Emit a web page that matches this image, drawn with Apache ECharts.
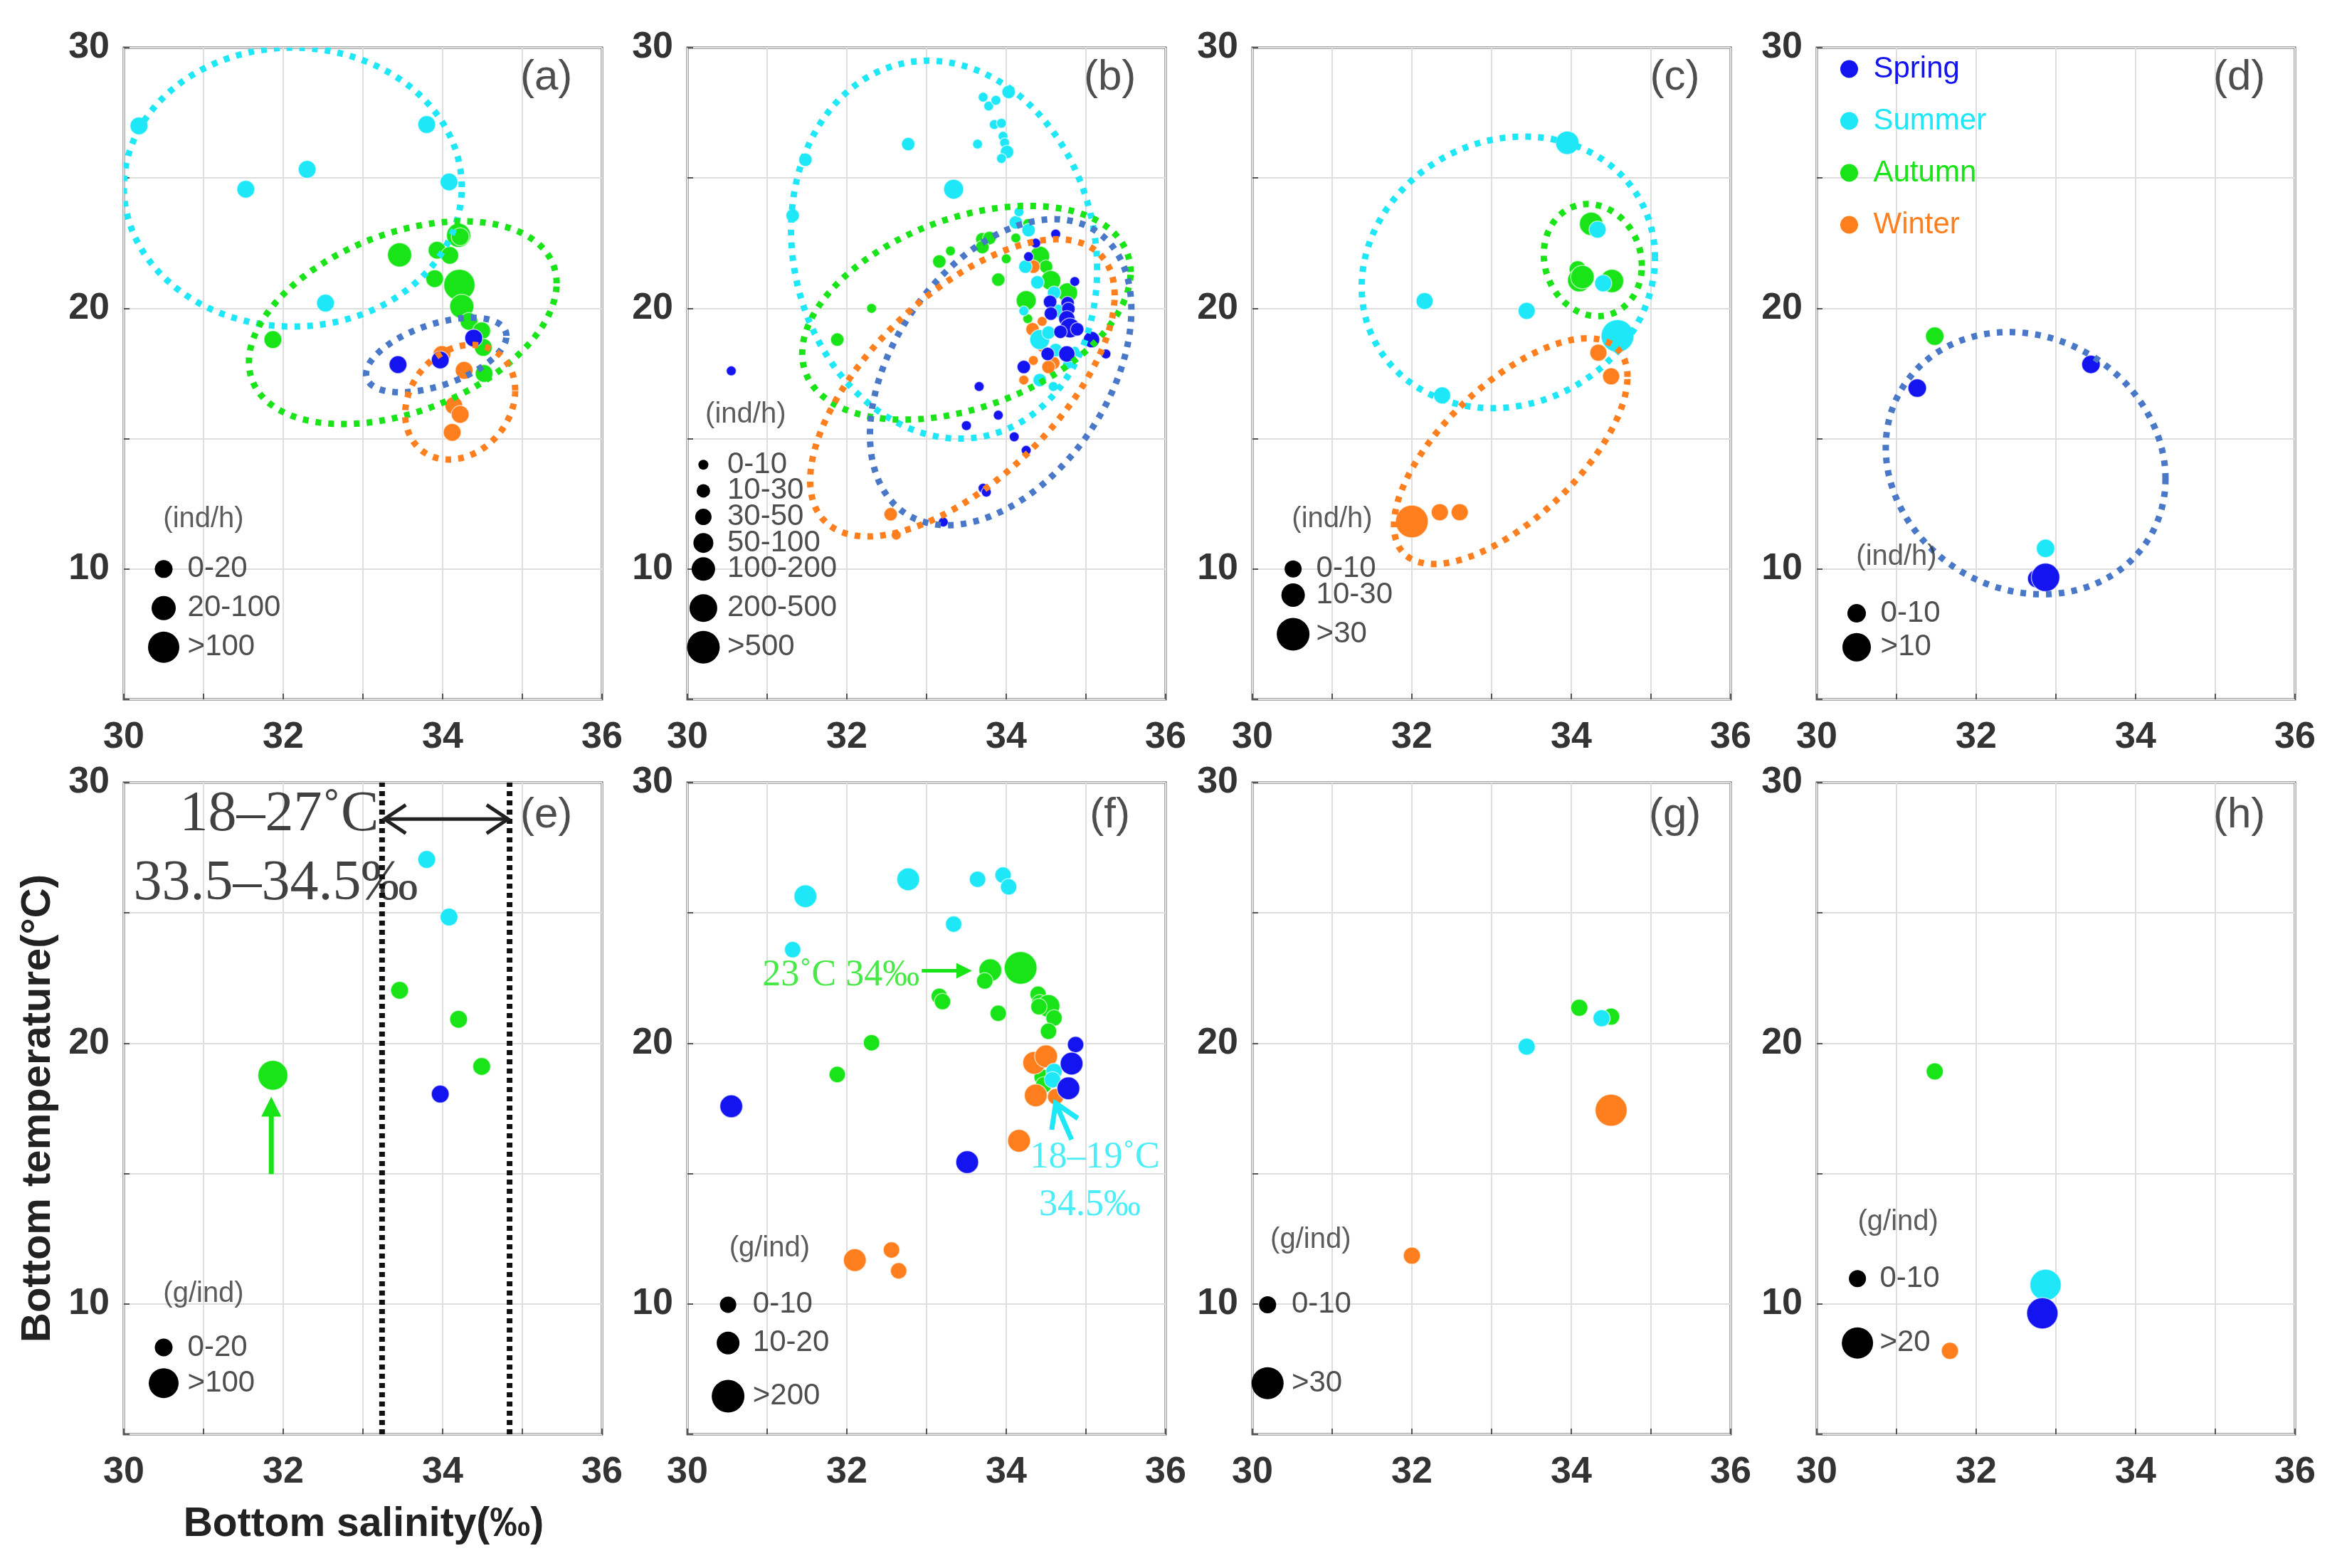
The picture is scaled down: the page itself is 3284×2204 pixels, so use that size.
<!DOCTYPE html>
<html>
<head>
<meta charset="utf-8">
<title>Bottom temperature vs salinity</title>
<script src="https://cdn.jsdelivr.net/npm/echarts@6/dist/echarts.min.js"></script>
<style>
html, body { margin: 0; padding: 0; background: #fff; }
#chart { width: 3284px; height: 2204px; }
</style>
</head>
<body>
<div id="chart"></div>
<script>
// seasons
var seasons = ['Spring', 'Summer', 'Autumn', 'Winter'];
var seasonColors = ['#1414f0', '#1ee8f8', '#18e418', '#ff7f1e'];
var ellipseColors = ['#4a78c8', '#1ee8f8', '#18e418', '#ff7f1e'];

// points: [salinity, temperature, size class]
/* (a) */
var springA = [[33.44, 17.84, 0], [33.97, 18.02, 0], [34.39, 18.86, 0]];
var summerA = [[30.19, 27.0, 0], [33.8, 27.05, 0], [32.3, 25.33, 0], [31.53, 24.57, 0], [34.08, 24.85, 0], [32.53, 20.2, 0]];
var autumnA = [[33.46, 22.05, 1], [33.93, 22.23, 0], [34.09, 22.03, 0], [34.2, 22.8, 1], [34.22, 22.75, 0], [33.9, 21.14, 0],
  [34.21, 20.9, 2], [34.24, 20.07, 1], [34.33, 19.5, 0], [34.49, 19.14, 0], [34.51, 18.5, 0], [34.52, 17.5, 0], [31.87, 18.8, 0]];
var winterA = [[33.99, 18.23, 0], [34.27, 17.62, 0], [34.14, 16.27, 0], [34.22, 15.93, 0], [34.12, 15.24, 0]];
/* (b) */
var springB = [[30.55, 17.6, 0], [33.66, 17.0, 0], [33.9, 15.9, 0], [33.5, 15.5, 0], [34.1, 15.07, 0], [34.25, 14.55, 0],
  [33.71, 13.1, 0], [33.75, 12.95, 0], [33.21, 11.8, 0], [34.62, 22.85, 0], [34.37, 22.5, 0], [34.28, 21.98, 0],
  [34.86, 21.03, 0], [34.55, 20.25, 1], [34.77, 20.2, 1], [34.78, 19.98, 1], [34.56, 19.8, 1], [34.76, 19.6, 2],
  [34.8, 19.25, 3], [34.89, 19.2, 1], [34.68, 19.1, 1], [35.07, 18.8, 2], [34.52, 18.25, 1], [34.76, 18.25, 2],
  [35.25, 18.25, 0], [34.22, 17.75, 1]];
var summerB = [[33.71, 28.1, 0], [33.78, 27.76, 0], [33.87, 27.98, 0], [34.03, 28.3, 1], [33.85, 27.05, 0], [33.94, 27.1, 0],
  [33.96, 26.6, 0], [33.98, 26.35, 0], [34.01, 26.0, 1], [33.94, 25.75, 0], [33.64, 26.3, 0], [32.77, 26.3, 1],
  [33.34, 24.57, 3], [31.48, 25.7, 1], [31.32, 23.56, 1], [34.12, 23.3, 1], [34.16, 23.7, 0], [34.28, 23.0, 1],
  [34.24, 21.6, 1], [34.39, 21.0, 1], [34.6, 20.6, 1], [34.65, 19.9, 1], [34.22, 19.9, 0], [34.42, 18.8, 3],
  [34.53, 19.07, 1], [34.86, 18.35, 0], [34.62, 18.4, 1], [34.77, 17.85, 0], [34.42, 17.25, 1], [34.59, 17.0, 0]];
var autumnB = [[34.27, 23.25, 0], [34.12, 22.7, 0], [33.7, 22.65, 1], [33.79, 22.7, 1], [33.7, 22.35, 1], [34.0, 21.9, 0],
  [33.9, 21.1, 1], [34.42, 22.0, 3], [34.5, 21.6, 1], [34.56, 21.07, 3], [34.77, 20.6, 3], [34.25, 20.3, 3],
  [34.27, 19.6, 0], [33.16, 21.8, 1], [33.3, 22.2, 0], [32.31, 20.0, 0], [31.88, 18.8, 1]];
var winterB = [[34.34, 21.6, 1], [34.33, 19.2, 1], [34.45, 19.5, 0], [34.45, 18.5, 0], [34.34, 18.0, 0], [34.59, 17.9, 1],
  [34.53, 17.75, 1], [34.22, 17.25, 0], [32.55, 12.1, 1], [32.62, 11.3, 0]];
/* (c) */
var springC = [];
var summerC = [[33.95, 26.35, 1], [34.33, 23.02, 0], [34.4, 20.96, 0], [34.58, 18.94, 2], [32.16, 20.28, 0], [33.44, 19.9, 0], [32.38, 16.66, 0]];
var autumnC = [[34.25, 23.24, 1], [34.08, 21.5, 0], [34.1, 21.08, 1], [34.14, 21.2, 1], [34.51, 21.05, 1]];
var winterC = [[32.0, 11.82, 2], [32.35, 12.18, 0], [32.6, 12.18, 0], [34.34, 18.3, 0], [34.5, 17.39, 0]];
/* (d) */
var springD = [[31.26, 16.94, 0], [33.44, 17.85, 0], [32.76, 9.63, 0], [32.87, 9.68, 1]];
var summerD = [[32.87, 10.79, 0]];
var autumnD = [[31.48, 18.93, 0]];
var winterD = [];
/* (e) */
var springE = [[33.97, 18.05, 0]];
var summerE = [[33.8, 27.05, 0], [34.08, 24.84, 0]];
var autumnE = [[33.46, 22.03, 0], [34.2, 20.92, 0], [34.49, 19.11, 0], [31.87, 18.77, 1]];
var winterE = [];
/* (f) */
var springF = [[30.55, 17.58, 1], [34.87, 19.95, 0], [34.82, 19.22, 1], [34.78, 18.27, 1], [33.51, 15.44, 1]];
var summerF = [[31.48, 25.64, 1], [32.77, 26.29, 1], [33.64, 26.29, 0], [33.96, 26.45, 0], [34.03, 26.0, 0], [33.34, 24.57, 0],
  [31.32, 23.59, 0], [34.6, 18.92, 0], [34.58, 18.6, 0]];
var autumnF = [[33.8, 22.8, 1], [33.73, 22.39, 0], [34.18, 22.89, 2], [33.16, 21.8, 0], [33.2, 21.6, 0], [34.4, 21.88, 0],
  [34.42, 21.55, 0], [34.53, 21.43, 1], [34.41, 21.4, 0], [34.6, 20.97, 0], [33.9, 21.15, 0], [34.53, 20.46, 0],
  [32.31, 20.02, 0], [31.88, 18.8, 0], [34.45, 18.7, 0], [34.47, 18.4, 0]];
var winterF = [[34.35, 19.25, 1], [34.5, 19.5, 1], [34.37, 18.0, 1], [34.62, 17.95, 0], [34.16, 16.26, 1], [32.1, 11.68, 1],
  [32.56, 12.07, 0], [32.65, 11.27, 0]];
/* (g) */
var springG = [];
var summerG = [[33.44, 19.87, 0], [34.38, 20.96, 0]];
var autumnG = [[34.1, 21.36, 0], [34.5, 21.02, 0]];
var winterG = [[34.5, 17.43, 1], [32.0, 11.85, 0]];
/* (h) */
var springH = [[32.83, 9.64, 1]];
var summerH = [[32.87, 10.73, 1]];
var autumnH = [[31.48, 18.92, 0]];
var winterH = [[31.67, 8.2, 0]];

// ellipses: [centre sal, centre temp, half width (sal), half height (temp), temp offset at rightmost point, season]
var ellipsesA = [[32.12, 24.65, 2.12, 5.35, 0, 1], [33.5, 19.45, 1.93, 3.89, 1.51, 2], [33.92, 18.21, 0.88, 1.43, 0.73, 0], [34.22, 16.4, 0.69, 2.2, 0.45, 3]];
var ellipsesB = [[33.22, 22.25, 1.92, 7.25, -0.75, 1], [33.5, 19.83, 2.06, 4.1, 1.56, 2], [33.93, 17.55, 1.64, 5.87, 2.4, 0], [33.45, 16.95, 1.91, 5.7, 3.55, 3]];
var ellipsesC = [[33.21, 21.38, 1.84, 5.21, 0.56, 1], [34.27, 21.85, 0.615, 2.15, -0.22, 2], [33.24, 14.52, 1.465, 4.33, 2.85, 3]];
var ellipsesD = [[32.62, 14.06, 1.755, 5.03, -0.6, 0]];

// size keys
var unitsTop = '(ind/h)';
var unitsBottom = '(g/ind)';
var keyLabelsA = ['0-20', '20-100', '>100'];
var keyLabelsB = ['0-10', '10-30', '30-50', '50-100', '100-200', '200-500', '>500'];
var keyLabelsC = ['0-10', '10-30', '>30'];
var keyLabelsD = ['0-10', '>10'];
var keyLabelsE = ['0-20', '>100'];
var keyLabelsF = ['0-10', '10-20', '>200'];
var keyLabelsG = ['0-10', '>30'];
var keyLabelsH = ['0-10', '>20'];
var panelLetters = ['(a)', '(b)', '(c)', '(d)', '(e)', '(f)', '(g)', '(h)'];
var xTickLabels = [30, 32, 34, 36];
var yTickLabels = [10, 20, 30];

// annotations
var rangeLinesE = [33.24, 34.84];
var notesE = [{ text: '18–27˚C', at: [30.7, 28.75], size: 80, color: '#111' }, { text: '33.5–34.5‰', at: [30.12, 26.1], size: 80, color: '#111' }];
var notesF = [{ text: '23˚C 34‰', at: [30.94, 22.59], size: 52, color: '#18e418' }, { text: '18–19˚C', at: [34.3, 15.6], size: 52, color: '#1ee8f8' },
  { text: '34.5‰', at: [34.41, 13.79], size: 52, color: '#1ee8f8' }];
var arrowsE = [[33.27, 28.6, 34.82, 28.6, 0], [31.85, 14.98, 31.85, 17.95, 1]];
var arrowsF = [[32.94, 22.78, 33.57, 22.78, 2], [34.82, 16.3, 34.62, 17.7, 3]];

// ---- layout / styles ----
var gridLefts = [174, 966, 1760, 2553];
var gridTops = [67, 1100];
var gridW = 672, gridH = 916;
var sansFont = 'Liberation Sans, Arial, sans-serif';
var serifFont = 'Liberation Serif, Times New Roman, serif';
var arrowStyles = [
  { color: '#222', width: 5, head: 'double', len: 30, half: 20 },
  { color: '#18e418', width: 7, head: 'fill', len: 28, half: 14 },
  { color: '#18e418', width: 5, head: 'fill', len: 22, half: 11 },
  { color: '#1ee8f8', width: 7, head: 'open', len: 32, half: 20 }
];
var keyLayout = [
  { ux: 31.0, uy: 11.9, dx: 30.5, lx: 30.8, ys: [10.0, 8.5, 7.0], sizes: [25, 34, 44] },
  { ux: 30.73, uy: 15.93, dx: 30.2, lx: 30.5, ys: [14, 13, 12, 11, 10, 8.5, 7], sizes: [14, 19, 23, 28, 33, 39, 46] },
  { ux: 31.0, uy: 11.9, dx: 30.51, lx: 30.8, ys: [10.0, 9.0, 7.5], sizes: [24, 33, 46] },
  { ux: 31.0, uy: 10.45, dx: 30.5, lx: 30.8, ys: [8.3, 7.0], sizes: [26, 40] },
  { ux: 31.0, uy: 10.38, dx: 30.5, lx: 30.8, ys: [8.33, 6.96], sizes: [25, 42] },
  { ux: 31.03, uy: 12.13, dx: 30.51, lx: 30.82, ys: [9.97, 8.5, 6.46], sizes: [23, 32, 46] },
  { ux: 30.73, uy: 12.45, dx: 30.19, lx: 30.49, ys: [9.97, 6.96], sizes: [24, 45] },
  { ux: 31.02, uy: 13.14, dx: 30.51, lx: 30.79, ys: [10.97, 8.5], sizes: [24, 44] }
];

var panels = [
  { data: [springA, summerA, autumnA, winterA], ellipses: ellipsesA, keys: keyLabelsA, unit: unitsTop },
  { data: [springB, summerB, autumnB, winterB], ellipses: ellipsesB, keys: keyLabelsB, unit: unitsTop },
  { data: [springC, summerC, autumnC, winterC], ellipses: ellipsesC, keys: keyLabelsC, unit: unitsTop },
  { data: [springD, summerD, autumnD, winterD], ellipses: ellipsesD, keys: keyLabelsD, unit: unitsTop },
  { data: [springE, summerE, autumnE, winterE], ellipses: [], keys: keyLabelsE, unit: unitsBottom, notes: notesE, arrows: arrowsE },
  { data: [springF, summerF, autumnF, winterF], ellipses: [], keys: keyLabelsF, unit: unitsBottom, notes: notesF, arrows: arrowsF },
  { data: [springG, summerG, autumnG, winterG], ellipses: [], keys: keyLabelsG, unit: unitsBottom },
  { data: [springH, summerH, autumnH, winterH], ellipses: [], keys: keyLabelsH, unit: unitsBottom }
];

/* dotted ellipse drawn through the axis scales */
function renderEllipse(params, api) {
  var cx = api.value(0), cy = api.value(1), w = api.value(2), h = api.value(3), k = api.value(4);
  var s = api.value(5);
  var m = Math.sqrt(Math.max(h * h - k * k, 0));
  var pts = [];
  for (var i = 0; i <= 240; i++) {
    var t = i / 240 * Math.PI * 2;
    pts.push(api.coord([cx + w * Math.cos(t), cy + k * Math.cos(t) + m * Math.sin(t)]));
  }
  return {
    type: 'polyline',
    shape: { points: pts },
    style: { stroke: ellipseColors[s], lineWidth: 9, lineDash: [8, 10], fill: null }
  };
}

function renderArrow(params, api) {
  var p1 = api.coord([api.value(0), api.value(1)]);
  var p2 = api.coord([api.value(2), api.value(3)]);
  var st = arrowStyles[api.value(4)];
  var dx = p2[0] - p1[0], dy = p2[1] - p1[1];
  var d = Math.sqrt(dx * dx + dy * dy);
  var ux = dx / d, uy = dy / d;
  var lineStyle = { stroke: st.color, lineWidth: st.width, fill: null };
  function head(tip, sx, sy) {
    var bx = tip[0] - sx * st.len, by = tip[1] - sy * st.len;
    return [[bx - sy * st.half, by + sx * st.half], tip, [bx + sy * st.half, by - sx * st.half]];
  }
  var children = [];
  if (st.head === 'fill') {
    var end = [p2[0] - ux * st.len * 0.8, p2[1] - uy * st.len * 0.8];
    children.push({ type: 'line', shape: { x1: p1[0], y1: p1[1], x2: end[0], y2: end[1] }, style: lineStyle });
    children.push({ type: 'polygon', shape: { points: head(p2, ux, uy) }, style: { fill: st.color } });
  } else {
    children.push({ type: 'line', shape: { x1: p1[0], y1: p1[1], x2: p2[0], y2: p2[1] }, style: lineStyle });
    children.push({ type: 'polyline', shape: { points: head(p2, ux, uy) }, style: lineStyle });
    if (st.head === 'double') {
      children.push({ type: 'polyline', shape: { points: head(p1, -ux, -uy) }, style: lineStyle });
    }
  }
  return { type: 'group', children: children };
}

var grids = [], xAxes = [], yAxes = [], series = [];
var drawOrder = [2, 3, 1, 0];

panels.forEach(function (p, gi) {
  var key = keyLayout[gi];
  grids.push({
    left: gridLefts[gi % 4], top: gridTops[Math.floor(gi / 4)], width: gridW, height: gridH,
    show: true, borderColor: '#555', borderWidth: 3, backgroundColor: '#fff'
  });
  xAxes.push({
    gridIndex: gi, type: 'value', min: 30, max: 36, interval: 1,
    axisLine: { show: false },
    axisTick: { inside: true, length: 8, lineStyle: { color: '#555', width: 2 } },
    axisLabel: {
      margin: 28, fontSize: 52, fontWeight: 'bold', color: '#333', fontFamily: sansFont,
      formatter: function (v) { return xTickLabels.indexOf(v) >= 0 ? String(v) : ''; }
    },
    splitLine: { show: true, lineStyle: { color: '#dedede', width: 2 } }
  });
  yAxes.push({
    gridIndex: gi, type: 'value', min: 5, max: 30, interval: 5,
    axisLine: { show: false },
    axisTick: { inside: true, length: 8, lineStyle: { color: '#555', width: 2 } },
    axisLabel: {
      margin: 20, fontSize: 52, fontWeight: 'bold', color: '#333', fontFamily: sansFont,
      formatter: function (v) { return yTickLabels.indexOf(v) >= 0 ? String(v) : ''; }
    },
    splitLine: { show: true, lineStyle: { color: '#dedede', width: 2 } }
  });

  drawOrder.forEach(function (si) {
    series.push({
      name: seasons[si], type: 'scatter', xAxisIndex: gi, yAxisIndex: gi,
      data: p.data[si],
      symbolSize: function (v) { return key.sizes[v[2]]; },
      itemStyle: { color: seasonColors[si], borderColor: 'rgba(255,255,255,0.6)', borderWidth: 1.5, opacity: 1 },
      silent: true, z: 3
    });
  });

  if (p.ellipses.length) {
    series.push({
      name: 'ellipse', type: 'custom', xAxisIndex: gi, yAxisIndex: gi,
      renderItem: renderEllipse, data: p.ellipses, silent: true, z: 4, clip: true
    });
  }

  // size key
  series.push({
    name: 'key', type: 'scatter', xAxisIndex: gi, yAxisIndex: gi, silent: true, z: 5,
    data: key.ys.map(function (y, i) { return { value: [key.dx, y], symbolSize: key.sizes[i] }; }),
    itemStyle: { color: '#000', opacity: 1 }
  });

  var labels = [];
  labels.push({ value: [key.ux, key.uy], label: { show: true, position: 'inside', formatter: p.unit, fontSize: 40, color: '#333', fontFamily: sansFont } });
  p.keys.forEach(function (t, i) {
    labels.push({ value: [key.lx, key.ys[i]], label: { show: true, position: 'right', distance: 0, formatter: t, fontSize: 42, color: '#222', fontFamily: sansFont } });
  });
  labels.push({ value: [35.3, gi < 4 ? 28.83 : 28.74], label: { show: true, position: 'inside', formatter: panelLetters[gi], fontSize: 60, color: '#222', fontFamily: sansFont } });
  (p.notes || []).forEach(function (n) {
    labels.push({ value: n.at, label: { show: true, position: 'right', distance: 0, formatter: n.text, fontSize: n.size, color: n.color, fontFamily: serifFont } });
  });
  series.push({
    name: 'labels', type: 'scatter', xAxisIndex: gi, yAxisIndex: gi, silent: true, z: 6,
    symbolSize: 0, data: labels, itemStyle: { color: 'rgba(0,0,0,0)' }
  });

  if (gi === 4) {
    rangeLinesE.forEach(function (x) {
      series.push({
        name: 'range', type: 'line', xAxisIndex: gi, yAxisIndex: gi, silent: true, z: 5,
        symbol: 'none', data: [[x, 5], [x, 30]],
        lineStyle: { color: '#111', width: 8, type: [7, 6] }
      });
    });
  }
  if (p.arrows) {
    series.push({
      name: 'arrows', type: 'custom', xAxisIndex: gi, yAxisIndex: gi, silent: true, z: 7,
      renderItem: renderArrow, data: p.arrows
    });
  }
});

var chart = echarts.init(document.getElementById('chart'), null, { renderer: 'canvas' });
chart.setOption({
  animation: false,
  backgroundColor: '#fff',
  grid: grids,
  xAxis: xAxes,
  yAxis: yAxes,
  legend: {
    left: 2581, top: 71, orient: 'vertical', icon: 'circle',
    itemWidth: 58, itemHeight: 25, itemGap: 31, selectedMode: false,
    textStyle: { fontSize: 42, fontFamily: sansFont },
    data: seasons.map(function (s, i) { return { name: s, textStyle: { color: seasonColors[i] }, itemStyle: { borderWidth: 0 } }; })
  },
  graphic: [
    {
      type: 'text', x: 54, y: 1558, rotation: Math.PI / 2,
      style: { text: 'Bottom temperature(°C)', fontSize: 58, fontWeight: 'bold', fontFamily: sansFont, fill: '#222', align: 'center', verticalAlign: 'middle' }
    },
    {
      type: 'text', x: 511, y: 2143,
      style: { text: 'Bottom salinity(‰)', fontSize: 57, fontWeight: 'bold', fontFamily: sansFont, fill: '#222', align: 'center', verticalAlign: 'middle' }
    }
  ],
  series: series
});
</script>
</body>
</html>
